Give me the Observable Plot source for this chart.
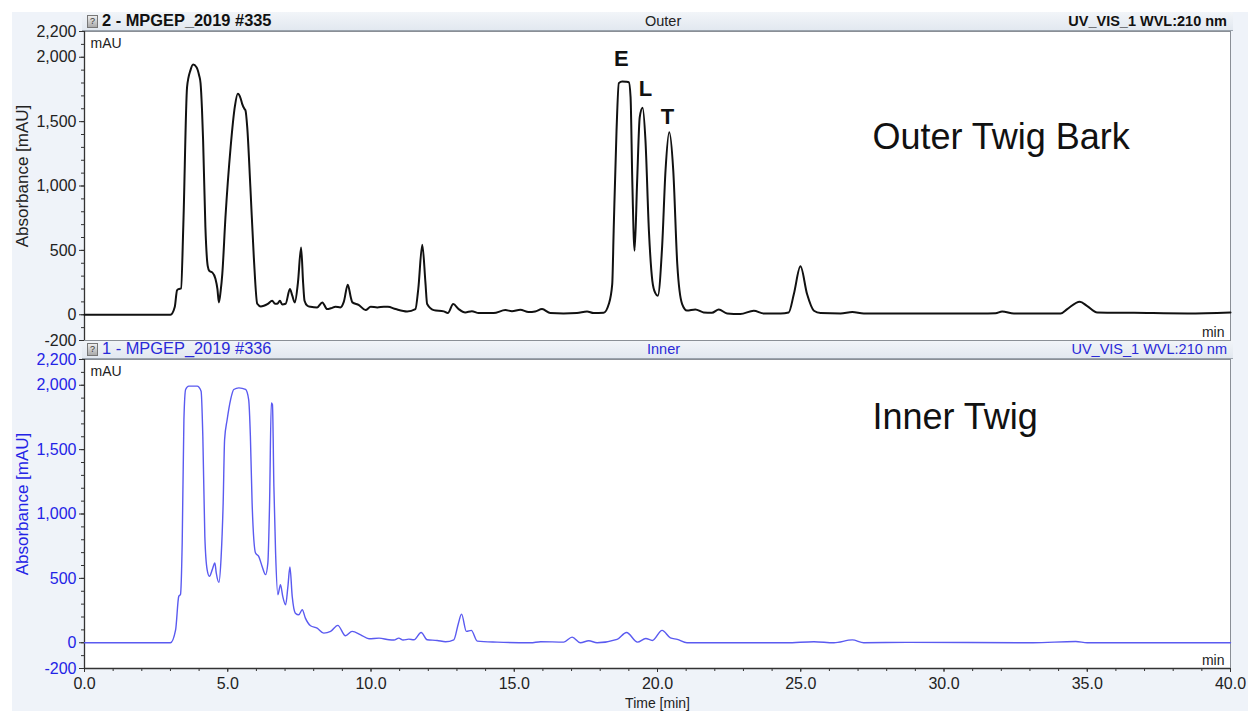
<!DOCTYPE html>
<html>
<head>
<meta charset="utf-8">
<script src="https://cdn.jsdelivr.net/npm/d3@7"></script>
<script src="https://cdn.jsdelivr.net/npm/@observablehq/plot@0.6"></script>
<style>
  html, body { margin: 0; padding: 0; background: #ffffff; }
  #page { position: relative; width: 1248px; height: 711px; overflow: hidden; font-family: "Liberation Sans", Arial, sans-serif; }
  #bg { position: absolute; left: 12px; top: 12px; width: 1236px; height: 699px; background: #eff3f9; }
  .band { position: absolute; left: 82px; width: 1151px; height: 18px; background: linear-gradient(to bottom, #f2f5f9, #e2e8f0); border-bottom: 1px solid #9aa3ad; }
  .band span { position: absolute; top: 1px; font-size: 14.5px; line-height: 16px; white-space: nowrap; }
  .band span.big { font-size: 16.4px; top: 0px; line-height: 17px; }
  .icon { position: absolute; left: 5px; top: 3px; width: 9px; height: 11px; background: linear-gradient(#eee, #aaa); border: 1px solid #777; font-size: 9px; line-height: 11px; text-align: center; color: #333; }
  .plotbox { position: absolute; left: 0; }
</style>
</head>
<body>
<div id="page">
  <div id="bg"></div>
  <div class="band" style="top:12px;">
    <div class="icon">?</div>
    <span class="big" style="left:20px; font-weight:bold; color:#111;">2 - MPGEP_2019 #335</span>
    <span style="left:563px; color:#222;">Outer</span>
    <span style="right:6px; font-weight:bold; color:#111;">UV_VIS_1 WVL:210 nm</span>
  </div>
  <div class="band" style="top:340px;">
    <div class="icon">?</div>
    <span class="big" style="left:20px; color:#2a2ad8;">1 - MPGEP_2019 #336</span>
    <span style="left:565px; color:#2a2ad8;">Inner</span>
    <span style="right:6px; color:#2a2ad8;">UV_VIS_1 WVL:210 nm</span>
  </div>
  <div id="top" class="plotbox" style="top:0px;"></div>
  <div id="bottom" class="plotbox" style="top:341px;"></div>
</div>
<script>
// ---- Data ----
const outerTime = [0,3.0,3.15,3.23,3.3,3.37,3.45,3.58,3.7,3.79,3.91,4.0,4.05,4.1,4.14,4.22,4.3,4.36,4.46,4.57,4.64,4.69,4.75,4.81,4.92,5.1,5.25,5.35,5.45,5.5,5.58,5.62,5.68,5.79,5.91,6.03,6.15,6.26,6.4,6.55,6.65,6.73,6.82,6.9,7.02,7.17,7.25,7.34,7.45,7.56,7.63,7.68,7.78,7.89,8.12,8.3,8.47,8.6,8.76,8.93,9.05,9.19,9.3,9.35,9.58,9.81,9.99,10.22,10.45,10.59,10.86,11.26,11.55,11.65,11.79,11.9,11.96,12.19,12.54,12.68,12.87,13.06,13.29,13.52,13.76,14.28,14.69,14.92,15.21,15.5,15.73,15.97,16.26,16.72,17.19,17.54,17.77,18.12,18.3,18.42,18.47,18.57,18.65,18.77,18.9,19.0,19.06,19.12,19.2,19.29,19.38,19.48,19.58,19.7,19.82,19.92,20.01,20.16,20.28,20.41,20.55,20.69,20.86,21.03,21.32,21.61,21.9,22.14,22.43,22.89,23.36,23.71,24.3,24.58,24.76,24.99,25.22,25.46,25.69,26.39,26.8,27.2,29.18,31.27,31.8,32.03,32.44,34.07,34.3,34.74,35.0,35.35,36.63,38.5,40];
const outerAbs  = [0,0,60,190,200,205,700,1768,1900,1944,1923,1860,1800,1600,1353,679,380,340,329,280,200,96,180,318,757,1301,1620,1716,1680,1640,1600,1586,1457,990,446,85,65,70,85,109,85,85,109,80,85,200,150,96,250,523,250,109,70,62,57,96,44,50,62,57,100,233,130,96,75,36,62,57,62,62,44,26,44,200,544,250,83,36,26,13,83,44,18,28,13,13,36,28,39,21,26,44,13,10,13,26,13,15,83,238,653,1431,1799,1812,1810,1806,1690,1042,498,1042,1534,1607,1353,653,264,170,148,523,1120,1418,1120,394,83,33,41,18,15,41,10,5,31,10,10,18,161,376,161,31,13,10,21,10,10,10,12,26,10,10,44,101,67,18,15,10,18];

const innerTime = [0,3.0,3.18,3.29,3.35,3.41,3.47,3.53,3.64,3.93,4.07,4.13,4.2,4.28,4.36,4.46,4.55,4.6,4.69,4.77,4.84,4.89,4.98,5.1,5.21,5.39,5.62,5.73,5.79,5.85,5.97,6.08,6.2,6.32,6.4,6.46,6.52,6.56,6.61,6.67,6.75,6.84,6.92,7.02,7.1,7.17,7.25,7.36,7.48,7.6,7.71,7.89,8.12,8.35,8.59,8.84,9.11,9.34,9.64,9.93,10.28,10.63,10.8,10.97,11.12,11.32,11.5,11.75,11.96,12.31,12.6,12.89,13.05,13.16,13.33,13.5,13.71,14.4,15.57,15.92,16.73,17.02,17.31,17.6,17.89,18.59,18.92,19.3,19.59,19.82,20.16,20.45,20.69,21.03,22.43,24.5,25.46,26.16,26.8,27.2,28.7,33.1,34.6,35.0,40];
const innerAbs  = [0,0,100,360,375,775,1734,1967,1993,1993,1954,1604,827,568,516,568,620,540,469,671,1086,1578,1734,1889,1967,1980,1967,1889,1604,1086,697,671,593,529,620,1086,1863,1850,1215,697,373,451,360,295,438,588,360,230,217,256,191,132,114,75,88,135,54,88,62,31,36,23,21,36,21,28,23,80,23,18,8,23,150,222,88,96,13,5,0,8,5,44,0,15,0,26,80,5,33,18,96,38,26,0,0,0,8,0,22,0,3,0,10,0,0];

const yTicks = [-200, 0, 500, 1000, 1500, 2000, 2200];
const yMinorTicks = d3.range(-200, 2201, 100);
const xTicks = [0, 5, 10, 15, 20, 25, 30, 35, 40];
const xMinorTicks = d3.range(0, 41, 1);

const peakNames = ["E", "L", "T"];
const peakLabelTime = [18.74, 19.58, 20.35];
const peakLabelAbs = [1990, 1750, 1540];

const panelTitles = ["Outer Twig Bark", "Inner Twig"];
const panelTitleTime = [27.5, 27.5];
const panelTitleAbs = [1376, 1752];

const FONT = "'Liberation Sans', Arial, Helvetica, sans-serif";
const BLUE = "#2323e6";
const fmtY = d => d3.format(",")(d).replace("\u2212", "-");

function panel({time, abs, lineColor, lineWidth, labelColor, height, marginTop, marginBottom, showX, extra}) {
  const marks = [
    Plot.frame({fill: "white", stroke: "#8a8f96"}),
    Plot.axisY(yMinorTicks, {tickSize: 3, tickFormat: () => "", stroke: "#333", label: null}),
    Plot.axisY(yTicks, {tickSize: 5, tickPadding: 3, tickFormat: fmtY, fontSize: 16, fill: labelColor, stroke: "#333", label: null}),
    Plot.ruleX([0], {stroke: "#333", strokeWidth: 1.3}),
    Plot.text(["Absorbance [mAU]"], {frameAnchor: "left", textAnchor: "middle", lineAnchor: "middle", dx: -62, dy: -10, rotate: -90, fontSize: 17, fill: labelColor}),
    Plot.text(["mAU"], {frameAnchor: "top-left", dx: 6, dy: 7, fontSize: 14, fill: "#222"}),
    Plot.text(["min"], {frameAnchor: "bottom-right", dx: -6, dy: -4, fontSize: 14, fill: "#222"}),
    Plot.line(abs, {x: time, y: abs, stroke: lineColor, strokeWidth: lineWidth, curve: "monotone-x"}),
    ...extra
  ];
  if (showX) {
    marks.push(
      Plot.ruleY([-200], {stroke: "#333", strokeWidth: 1.3}),
      Plot.axisX(xMinorTicks, {tickSize: 3, tickFormat: () => "", stroke: "#333", label: null}),
      Plot.axisX(xTicks, {tickSize: 4, tickPadding: 5, tickFormat: d => d.toFixed(1), fontSize: 16, fill: "#222", stroke: "#333", label: null}),
      Plot.text(["Time [min]"], {frameAnchor: "bottom", dy: 30, lineAnchor: "top", fontSize: 14, fill: "#222"})
    );
  }
  return Plot.plot({
    width: 1248,
    height,
    marginLeft: 84,
    marginRight: 18,
    marginTop,
    marginBottom,
    style: {background: "transparent", fontFamily: FONT, fontSize: "14px", overflow: "visible"},
    x: {domain: [0, 40], axis: null},
    y: {domain: [-200, 2200], axis: null},
    marks
  });
}

const topChart = panel({
  time: outerTime, abs: outerAbs, lineColor: "#111", lineWidth: 2, labelColor: "#222",
  height: 341, marginTop: 31, marginBottom: 1, showX: false,
  extra: [
    Plot.text(peakNames, {x: peakLabelTime, y: peakLabelAbs, text: d => d, fontSize: 22, fontWeight: "bold", fill: "#111"}),
    Plot.text([panelTitles[0]], {x: [panelTitleTime[0]], y: [panelTitleAbs[0]], textAnchor: "start", fontSize: 36, fill: "#111"})
  ]
});
document.getElementById("top").appendChild(topChart);

const bottomChart = panel({
  time: innerTime, abs: innerAbs, lineColor: "#5a5af0", lineWidth: 1.4, labelColor: BLUE,
  height: 370, marginTop: 18, marginBottom: 43, showX: true,
  extra: [
    Plot.text([panelTitles[1]], {x: [panelTitleTime[1]], y: [panelTitleAbs[1]], textAnchor: "start", fontSize: 36, fill: "#111"})
  ]
});
document.getElementById("bottom").appendChild(bottomChart);
</script>
</body>
</html>
